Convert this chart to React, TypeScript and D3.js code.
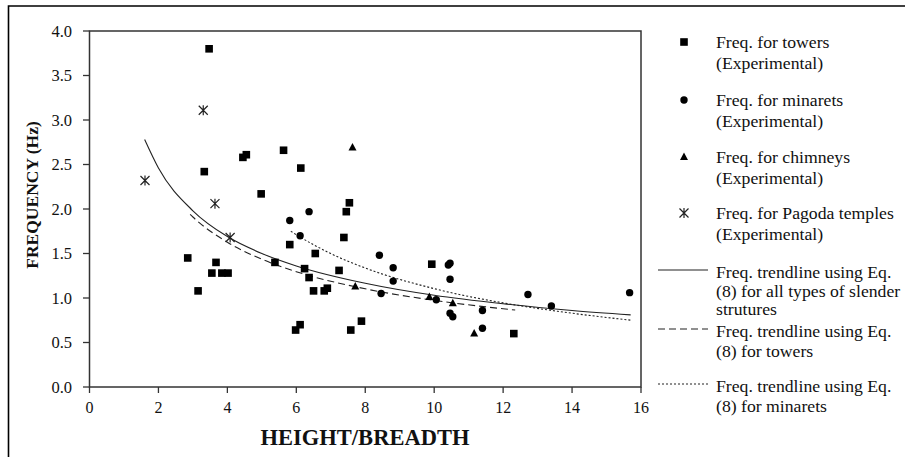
import React from "react";
import * as d3 from "d3";

const towers: [number, number][] = [
  [3.47, 3.8], [3.33, 2.42], [4.45, 2.58], [4.55, 2.61], [4.98, 2.17], [2.85, 1.45],
  [3.67, 1.4], [3.55, 1.28], [3.84, 1.28], [4.02, 1.28], [3.15, 1.08], [5.38, 1.4],
  [5.81, 1.6], [6.55, 1.5], [6.24, 1.33], [6.37, 1.23], [6.5, 1.08], [6.81, 1.08],
  [6.9, 1.11], [7.24, 1.31], [7.38, 1.68], [7.45, 1.97], [7.54, 2.07], [5.98, 0.64],
  [6.11, 0.7], [7.58, 0.64], [7.89, 0.74], [9.93, 1.38], [12.31, 0.6], [5.63, 2.66],
  [6.13, 2.46],
];
const minarets: [number, number][] = [
  [5.81, 1.87], [6.37, 1.97], [6.11, 1.7], [8.41, 1.48], [8.81, 1.34], [8.81, 1.19],
  [8.46, 1.05], [10.06, 0.98], [10.46, 1.39], [10.41, 1.37], [10.46, 1.21], [10.46, 0.83],
  [10.54, 0.79], [11.4, 0.86], [11.4, 0.66], [12.72, 1.04], [13.4, 0.91], [15.67, 1.06],
];
const chimneys: [number, number][] = [
  [7.63, 2.69], [7.71, 1.13], [9.86, 1.01], [10.54, 0.94], [11.16, 0.6],
];
const pagodas: [number, number][] = [
  [1.61, 2.32], [3.3, 3.11], [3.64, 2.06], [4.08, 1.68],
];

// trendlines
const trendAll: [number, number][] = [
  [1.6, 2.78], [2, 2.46], [3, 1.98], [4, 1.69], [5, 1.5], [6, 1.36], [8, 1.165],
  [10, 1.03], [12, 0.935], [14, 0.86], [15.7, 0.81],
];
const trendTowers: [number, number][] = [
  [2.92, 1.94], [3, 1.91], [4, 1.627], [5, 1.436], [6, 1.296], [8, 1.103], [10, 0.974],
  [12, 0.879], [12.35, 0.865],
];
const trendMinarets: [number, number][] = [
  [5.84, 1.75], [6, 1.711], [7, 1.499], [8, 1.337], [10, 1.105], [12, 0.945], [14, 0.829],
  [15.72, 0.75],
];

const xTicks = [0, 2, 4, 6, 8, 10, 12, 14, 16];
const yTicks = [0, 0.5, 1, 1.5, 2, 2.5, 3, 3.5, 4];

const legendMarkers = [
  { kind: "square", lines: ["Freq. for towers", "(Experimental)"] },
  { kind: "circle", lines: ["Freq. for minarets", "(Experimental)"] },
  { kind: "triangle", lines: ["Freq. for chimneys", "(Experimental)"] },
  { kind: "star", lines: ["Freq. for Pagoda temples", "(Experimental)"] },
];
const legendLines = [
  { dash: "none", lines: ["Freq. trendline using Eq.", "(8) for all types of slender", "strutures"] },
  { dash: "7,4", lines: ["Freq. trendline using Eq.", "(8) for towers"] },
  { dash: "2,2", lines: ["Freq. trendline using Eq.", "(8) for minarets"] },
];

const FONT = "'Liberation Serif', 'Times New Roman', serif";

function Marker({ kind, x, y }: { kind: string; x: number; y: number }) {
  if (kind === "square") return <rect x={x - 3.8} y={y - 3.8} width={7.6} height={7.6} fill="#000" />;
  if (kind === "circle") return <circle cx={x} cy={y} r={3.7} fill="#000" />;
  if (kind === "triangle")
    return <path d={`M${x},${y - 4.5}L${x + 4},${y + 3}L${x - 4},${y + 3}Z`} fill="#000" />;
  const s = 4.5;
  return (
    <path
      d={`M${x - s},${y - s}L${x + s},${y + s}M${x - s},${y + s}L${x + s},${y - s}M${x},${y - s - 0.5}L${x},${y + s + 0.5}`}
      stroke="#222"
      strokeWidth={1.2}
      fill="none"
    />
  );
}

export default function App() {
  const x = d3.scaleLinear().domain([0, 16]).range([89.5, 641]);
  const y = d3.scaleLinear().domain([0, 4]).range([387, 31]);
  const line = d3
    .line<[number, number]>()
    .x((d) => x(d[0]))
    .y((d) => y(d[1]))
    .curve(d3.curveMonotoneX);

  const legX = 716;
  const markerY = [42, 100, 157, 213];
  const lineY = [272, 331, 386];
  const lineStep = [18.5, 20, 20];

  return (
    <svg
      width={905}
      height={457}
      style={{ position: "absolute", left: 0, top: 0, background: "#fff" }}
      fontFamily={FONT}
    >
      <rect x={0} y={0} width={905} height={457} fill="#fff" />
      {/* outer frame */}
      <path d="M8.5,457L8.5,6L905,6" stroke="#000" strokeWidth={1.6} fill="none" />

      {/* plot box */}
      <rect x={89.5} y={31} width={641 - 89.5} height={356} fill="none" stroke="#333" strokeWidth={1.5} />

      {/* y ticks */}
      {yTicks.map((t) => (
        <g key={"y" + t}>
          <line x1={83} x2={89.5} y1={y(t)} y2={y(t)} stroke="#333" strokeWidth={1.3} />
          <text x={72} y={y(t)} dy="0.35em" textAnchor="end" fontSize={16.5} fill="#111">
            {t.toFixed(1)}
          </text>
        </g>
      ))}
      {/* x ticks */}
      {xTicks.map((t) => (
        <g key={"x" + t}>
          <line x1={x(t)} x2={x(t)} y1={387} y2={393} stroke="#333" strokeWidth={1.3} />
          <text x={x(t)} y={413} textAnchor="middle" fontSize={16} fill="#111">
            {t}
          </text>
        </g>
      ))}

      <text x={365} y={445} textAnchor="middle" fontSize={22.5} fontWeight="bold" fill="#111">
        HEIGHT/BREADTH
      </text>
      <text
        transform={`translate(38,${195}) rotate(-90)`}
        textAnchor="middle"
        fontSize={17.5}
        fontWeight="bold"
        fill="#111"
      >
        FREQUENCY (Hz)
      </text>

      {/* trendlines */}
      <path d={line(trendAll) || ""} fill="none" stroke="#222" strokeWidth={1.1} />
      <path d={line(trendTowers) || ""} fill="none" stroke="#222" strokeWidth={1.1} strokeDasharray="7,4" />
      <path d={line(trendMinarets) || ""} fill="none" stroke="#222" strokeWidth={1.1} strokeDasharray="2,2" />

      {/* points */}
      {towers.map((d, i) => (
        <Marker key={"t" + i} kind="square" x={x(d[0])} y={y(d[1])} />
      ))}
      {minarets.map((d, i) => (
        <Marker key={"m" + i} kind="circle" x={x(d[0])} y={y(d[1])} />
      ))}
      {chimneys.map((d, i) => (
        <Marker key={"c" + i} kind="triangle" x={x(d[0])} y={y(d[1])} />
      ))}
      {pagodas.map((d, i) => (
        <Marker key={"p" + i} kind="star" x={x(d[0])} y={y(d[1])} />
      ))}

      {/* legend */}
      {legendMarkers.map((l, i) => (
        <g key={"lm" + i}>
          <Marker kind={l.kind} x={684} y={markerY[i]} />
          {l.lines.map((s, j) => (
            <text key={j} x={legX} y={markerY[i] + j * 20.5} dy="0.35em" fontSize={17.7} fill="#111">
              {s}
            </text>
          ))}
        </g>
      ))}
      {legendLines.map((l, i) => (
        <g key={"ll" + i}>
          <line
            x1={658}
            x2={708}
            y1={lineY[i] - 2}
            y2={lineY[i] - 2}
            stroke="#222"
            strokeWidth={1.1}
            strokeDasharray={l.dash}
          />
          {l.lines.map((s, j) => (
            <text key={j} x={legX} y={lineY[i] + j * lineStep[i]} dy="0.35em" fontSize={17.7} fill="#111">
              {s}
            </text>
          ))}
        </g>
      ))}
    </svg>
  );
}
